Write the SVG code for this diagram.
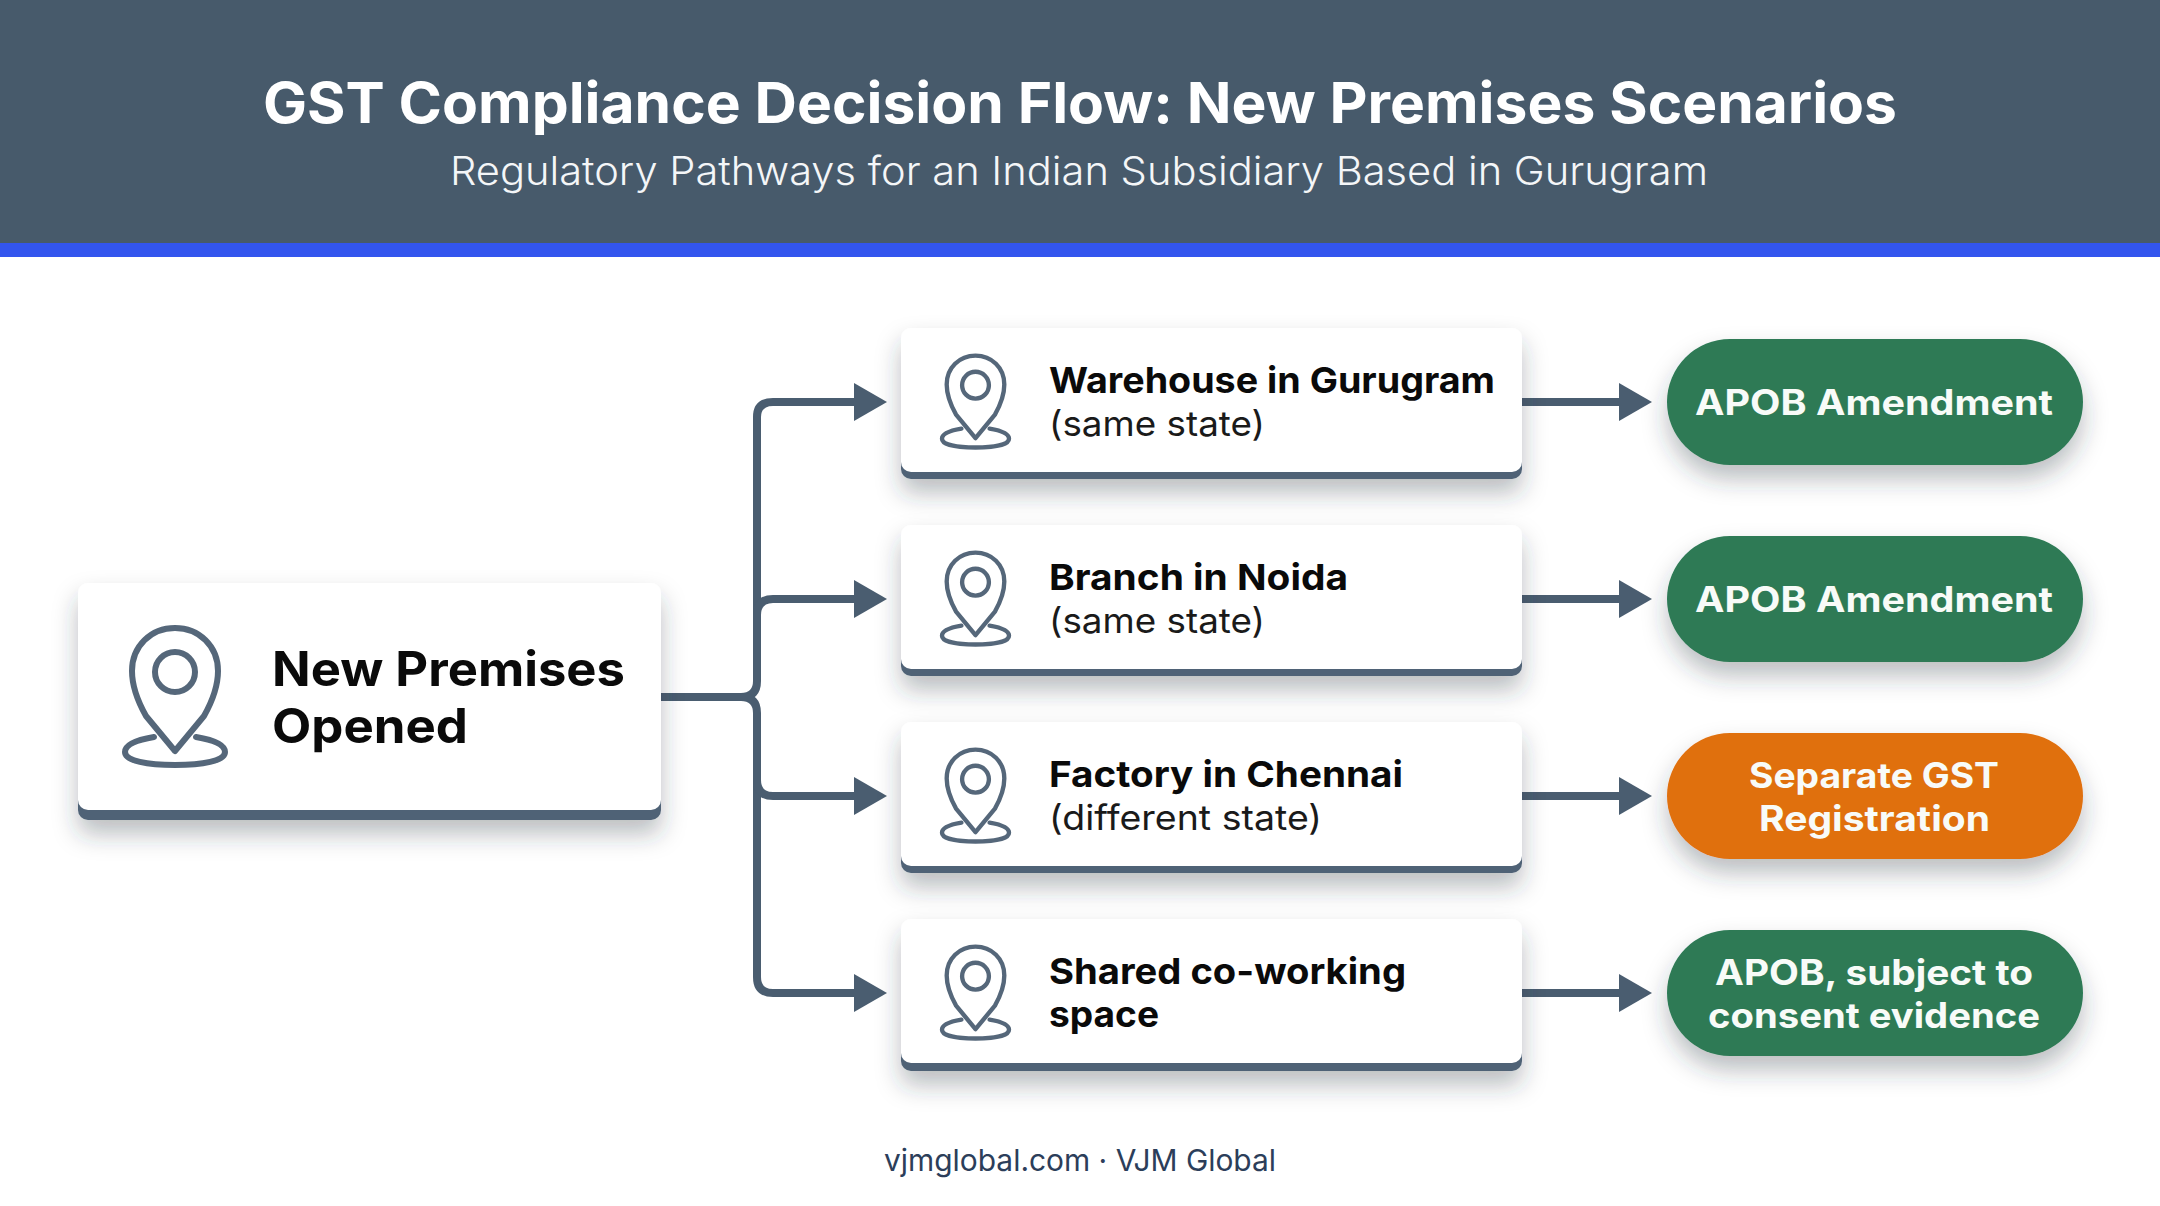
<svg xmlns="http://www.w3.org/2000/svg" xmlns:xlink="http://www.w3.org/1999/xlink" width="2160" height="1206" viewBox="0 0 2160 1206">
<style>
text{font-family:Inter,"Liberation Sans",sans-serif}
.b{font-weight:700;fill:#0a0a0a;font-size:36px}
.r{font-weight:400;fill:#1a1a1a;font-size:35px}
.w{font-weight:700;fill:#f8fbf8;font-size:35px}
.cn{fill:none;stroke:#4a5d70;stroke-width:8;marker-end:url(#ah)}
.ic{fill:none;stroke:#55677a;stroke-linecap:round;stroke-linejoin:round}
.strip{fill:#4f6276}
.card{fill:#fff}
</style>
<defs>
<filter id="sh" x="-15%" y="-25%" width="130%" height="160%"><feDropShadow dx="0" dy="14" stdDeviation="12" flood-color="#2a3540" flood-opacity=".32"/></filter>
<marker id="ah" markerUnits="userSpaceOnUse" markerWidth="34" markerHeight="40" refX="2" refY="20" orient="auto"><path d="M0 1 L33 20 L0 39Z" fill="#4a5d70"/></marker>
<g id="pin">
<path d="M0 127 L-29 92 C-38 76 -43 62 -43 47 C-43 22 -24 4 0 4 C24 4 43 22 43 47 C43 62 38 76 29 92 Z" class="ic"/>
<ellipse cx="0" cy="48" rx="20" ry="20" class="ic"/>
<path d="M-21 113 C-39 116 -50 121 -50 128 C-50 137 -27 141 0 141 C27 141 50 137 50 128 C50 121 39 116 21 113" class="ic"/>
</g>
</defs>
<rect width="2160" height="1206" fill="#fff"/>
<g id="header">
<rect width="2160" height="243" fill="#475a6b"/>
<rect y="243" width="2160" height="14" fill="#3355ee"/>
<text x="263" y="123" font-size="56" style="font-weight:700;fill:#fff" textLength="1634" lengthAdjust="spacingAndGlyphs">GST Compliance Decision Flow: New Premises Scenarios</text>
<text x="450" y="185" font-size="39" style="font-weight:300;fill:#f4f6f8" textLength="1258" lengthAdjust="spacingAndGlyphs">Regulatory Pathways for an Indian Subsidiary Based in Gurugram</text>
</g>
<g id="connectors">
<path class="cn" d="M661 697 H741 Q757 697 757 681 V417 Q757 402 773 402 H856"/>
<path class="cn" d="M661 697 H741 Q757 697 757 713 V977 Q757 993 773 993 H856"/>
<path class="cn" d="M757 615 Q757 599 773 599 H856"/>
<path class="cn" d="M757 780 Q757 796 773 796 H856"/>
<path class="cn" d="M1522 402 H1621"/>
<path class="cn" d="M1522 599 H1621"/>
<path class="cn" d="M1522 796 H1621"/>
<path class="cn" d="M1522 993 H1621"/>
</g>
<g id="node-new-premises">
<g filter="url(#sh)"><rect x="78" y="700" width="583" height="120" rx="10" class="strip"/><rect x="78" y="583" width="583" height="227" rx="10" class="card"/></g>
<use href="#pin" x="175" y="624" stroke-width="6"/>
<text x="272" y="686" style="font-weight:700;fill:#0a0a0a;font-size:48px" textLength="353" lengthAdjust="spacingAndGlyphs">New Premises</text>
<text x="272" y="743" style="font-weight:700;fill:#0a0a0a;font-size:48px" textLength="196" lengthAdjust="spacingAndGlyphs">Opened</text>
</g>
<g id="node-warehouse">
<g filter="url(#sh)"><rect x="901" y="400" width="621" height="79" rx="10" class="strip"/><rect x="901" y="328" width="621" height="144" rx="10" class="card"/></g>
<g transform="translate(975.5 353) scale(.67)"><use href="#pin" stroke-width="6.5"/></g>
<text x="1049" y="393" class="b" textLength="446" lengthAdjust="spacingAndGlyphs">Warehouse in Gurugram</text>
<text x="1049" y="436" class="r" textLength="216" lengthAdjust="spacingAndGlyphs">(same state)</text>
</g>
<g id="node-branch">
<g filter="url(#sh)"><rect x="901" y="597" width="621" height="79" rx="10" class="strip"/><rect x="901" y="525" width="621" height="144" rx="10" class="card"/></g>
<g transform="translate(975.5 550) scale(.67)"><use href="#pin" stroke-width="6.5"/></g>
<text x="1049" y="590" class="b" textLength="299" lengthAdjust="spacingAndGlyphs">Branch in Noida</text>
<text x="1049" y="633" class="r" textLength="216" lengthAdjust="spacingAndGlyphs">(same state)</text>
</g>
<g id="node-factory">
<g filter="url(#sh)"><rect x="901" y="794" width="621" height="79" rx="10" class="strip"/><rect x="901" y="722" width="621" height="144" rx="10" class="card"/></g>
<g transform="translate(975.5 747) scale(.67)"><use href="#pin" stroke-width="6.5"/></g>
<text x="1049" y="787" class="b" textLength="354" lengthAdjust="spacingAndGlyphs">Factory in Chennai</text>
<text x="1049" y="830" class="r" textLength="273" lengthAdjust="spacingAndGlyphs">(different state)</text>
</g>
<g id="node-shared">
<g filter="url(#sh)"><rect x="901" y="991" width="621" height="80" rx="10" class="strip"/><rect x="901" y="919" width="621" height="144" rx="10" class="card"/></g>
<g transform="translate(975.5 944) scale(.67)"><use href="#pin" stroke-width="6.5"/></g>
<text x="1049" y="984" class="b" textLength="357" lengthAdjust="spacingAndGlyphs">Shared co-working</text>
<text x="1049" y="1027" class="b" textLength="110" lengthAdjust="spacingAndGlyphs">space</text>
</g>
<g id="outcome-1">
<rect x="1667" y="339" width="416" height="126" rx="63" fill="#2d7a55" filter="url(#sh)"/>
<text x="1695" y="415" class="w" textLength="358" lengthAdjust="spacingAndGlyphs">APOB Amendment</text>
</g>
<g id="outcome-2">
<rect x="1667" y="536" width="416" height="126" rx="63" fill="#2d7a55" filter="url(#sh)"/>
<text x="1695" y="612" class="w" textLength="358" lengthAdjust="spacingAndGlyphs">APOB Amendment</text>
</g>
<g id="outcome-3">
<rect x="1667" y="733" width="416" height="126" rx="63" fill="#e0700f" filter="url(#sh)"/>
<text x="1749" y="788" class="w" textLength="250" lengthAdjust="spacingAndGlyphs">Separate GST</text>
<text x="1759" y="831" class="w" textLength="231" lengthAdjust="spacingAndGlyphs">Registration</text>
</g>
<g id="outcome-4">
<rect x="1667" y="930" width="416" height="126" rx="63" fill="#2d7a55" filter="url(#sh)"/>
<text x="1715" y="985" class="w" textLength="318" lengthAdjust="spacingAndGlyphs">APOB, subject to</text>
<text x="1708" y="1028" class="w" textLength="332" lengthAdjust="spacingAndGlyphs">consent evidence</text>
</g>
<g id="footer">
<text x="884" y="1171" font-size="30" style="font-weight:400;fill:#2c3e5a" textLength="392" lengthAdjust="spacingAndGlyphs">vjmglobal.com · VJM Global</text>
</g>
</svg>
